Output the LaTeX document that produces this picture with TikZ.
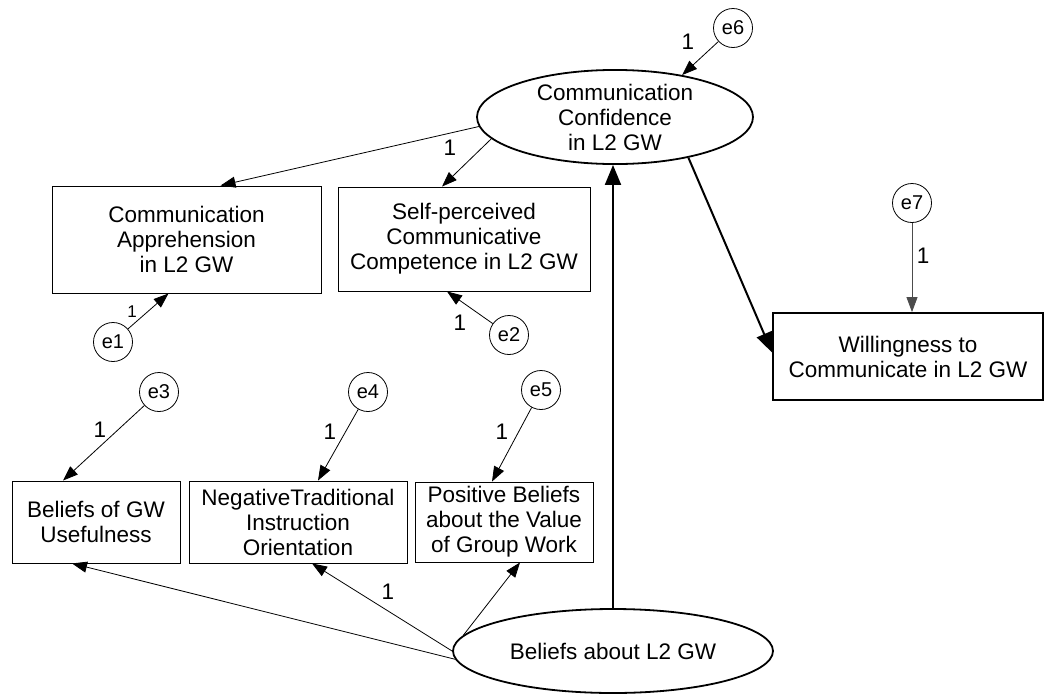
\documentclass[tikz,border=0pt]{standalone}
\usepackage{fontspec}
\setmainfont{Liberation Sans}
\usetikzlibrary{arrows.meta,shapes.geometric}

\begin{document}
\begin{tikzpicture}[x=1pt,y=-1pt,font=\fontsize{22.5}{25}\selectfont,
  obs/.style={draw,line width=0.9pt,inner sep=0pt,align=center},
  lat/.style={draw,ellipse,line width=1.8pt,inner sep=0pt,align=center},
  err/.style={draw,circle,line width=0.8pt,minimum size=39pt,inner sep=0pt,font=\fontsize{20}{22}\selectfont},
  load/.style={line width=0.8pt,-{Triangle[length=15pt,width=11pt]}},
  effect/.style={line width=2pt,-{Triangle[length=20pt,width=16pt]}},
  lbl/.style={inner sep=0pt}]
\useasboundingbox (0,0) rectangle (1045,694);
% latent variables
\node[lat,minimum width=276pt,minimum height=90pt] (conf) at (615,117) {Communication\\Confidence\\in L2 GW};
\node[lat,minimum width=320pt,minimum height=84pt] (beliefs) at (613,651) {Beliefs about L2 GW};
% observed variables
\node[obs,minimum width=269pt,minimum height=107pt] (appr) at (186.5,239.5) {Communication\\Apprehension\\in L2 GW};
\node[obs,minimum width=252pt,minimum height=104pt] (comp) at (464,239) {Self-perceived\\Communicative\\Competence in L2 GW};
\node[obs,line width=1.8pt,minimum width=270pt,minimum height=87pt] (wtc) at (908,356.5) {Willingness to\\Communicate in L2 GW};
\node[obs,minimum width=168pt,minimum height=82pt] (useful) at (96,522) {Beliefs of GW\\Usefulness};
\node[obs,minimum width=218pt,minimum height=82pt] (trad) at (298,522) {NegativeTraditional\\Instruction\\Orientation};
\node[obs,minimum width=178pt,minimum height=80pt] (value) at (504,522) {Positive Beliefs\\about the Value\\of Group Work};
% error terms
\node[err] (e1) at (113,342) {e1};
\node[err] (e2) at (509,335) {e2};
\node[err] (e3) at (159,392) {e3};
\node[err] (e4) at (368,392) {e4};
\node[err] (e5) at (541,390) {e5};
\node[err] (e6) at (733,28) {e6};
\node[err] (e7) at (912,203) {e7};
% paths
\draw[load] (e6) -- (conf.32);
\draw[load] (conf.184) -- ([xshift=34pt]appr.north);
\draw[load] (conf.190) -- ([xshift=-22pt]comp.north);
\draw[load] (e1) -- ([xshift=-18pt]appr.south);
\draw[load] (e2) -- ([xshift=-17pt]comp.south);
\draw[effect] (conf.-29) -- ([yshift=4pt]wtc.west);
\draw[load,black!70] (e7) -- (e7 |- wtc.north);
\draw[effect] (beliefs.north) -- (beliefs.north |- conf.south);
\draw[load] (e3) -- ([xshift=-33pt]useful.north);
\draw[load] (e4) -- ([xshift=20pt]trad.north);
\draw[load] (e5) -- ([xshift=-12pt]value.north);
\draw[load] (beliefs.183) -- ([xshift=-24pt]useful.south);
\draw[load] (beliefs.180) -- ([xshift=14pt]trad.south);
\draw[load] (beliefs.174) -- ([xshift=16pt]value.south);
% fixed loadings
\node[lbl] (l6) at (688,42) {1};
\node[lbl] (lc) at (450,148) {1};
\node[lbl,font=\fontsize{17}{20}\selectfont] (l1) at (132,312) {1};
\node[lbl] (l2) at (460,323) {1};
\node[lbl] (l7) at (923,256) {1};
\node[lbl] (l3) at (100,430) {1};
\node[lbl] (l4) at (330,432) {1};
\node[lbl] (l5) at (502,432) {1};
\node[lbl] (lt) at (388,592) {1};
\end{tikzpicture}
\end{document}
